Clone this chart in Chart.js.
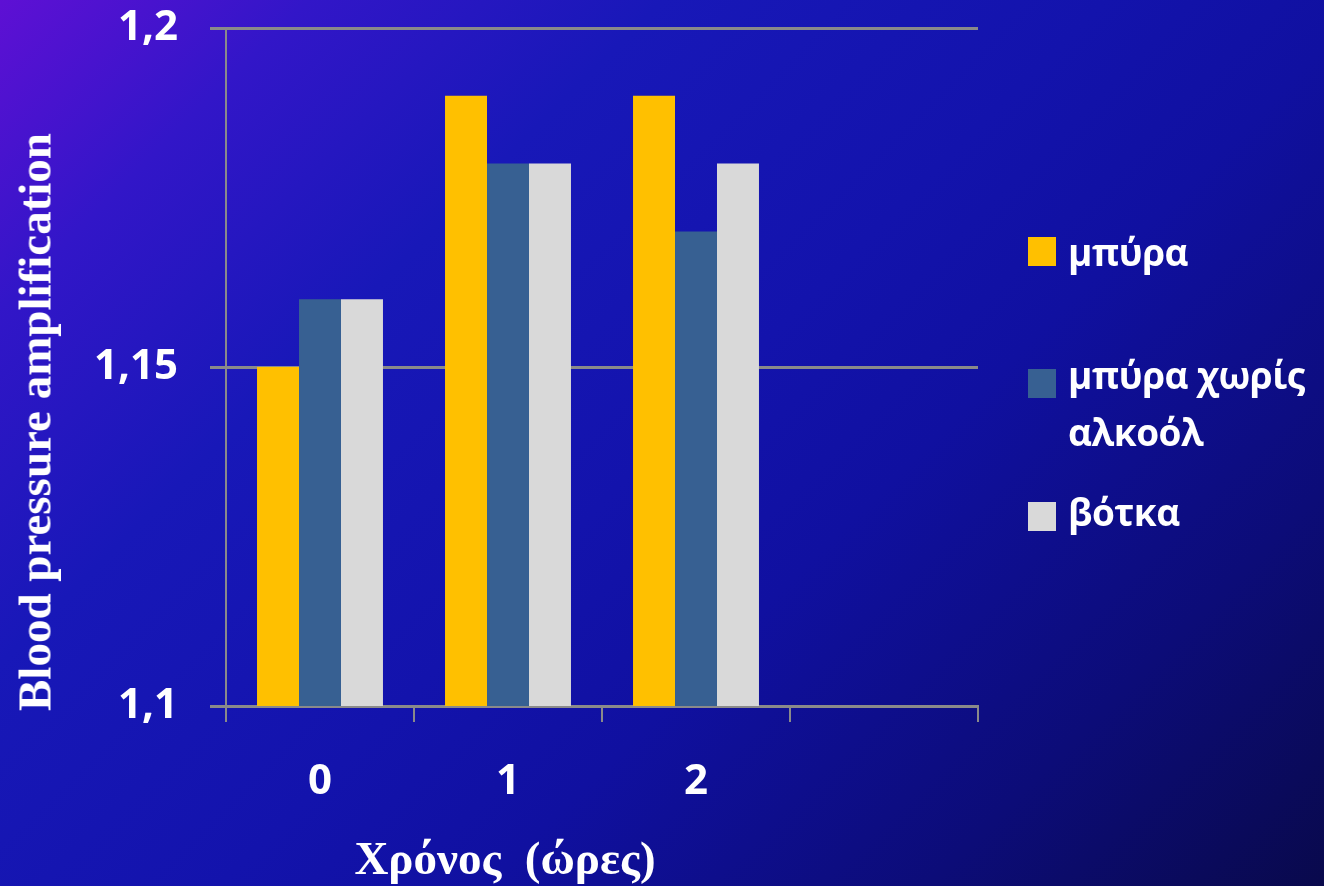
<!DOCTYPE html>
<html>
<head>
<meta charset="utf-8">
<script src="https://cdn.jsdelivr.net/npm/chart.js@4/dist/chart.umd.min.js"></script>
<style>
  html, body { margin: 0; padding: 0; width: 1324px; height: 886px; overflow: hidden; }
  #wrap {
    position: relative; width: 1324px; height: 886px;
    background: linear-gradient(135deg, #5e10d4 0%, #3216c8 14%, #1818b8 30%, #1313ac 50%, #1010a0 62%, #0c0c78 82%, #09094c 100%);
  }
  canvas { position: absolute; left: 0; top: 0; }
  .axt { position: absolute; color: #fff; font-family: "Liberation Serif", "Times New Roman", serif; font-weight: bold; font-size: 47px; white-space: nowrap; line-height: 1; }
  #ytitle { left: 35px; top: 422px; transform: translate(-50%, -50%) rotate(-90deg); }
  #xtitle { left: 505px; top: 858px; transform: translate(-50%, -50%); }
  .lg { position: absolute; color: #fff; font-family: "Open Sans", sans-serif; font-weight: bold; font-size: 37px; letter-spacing: -0.5px; line-height: 44px; white-space: nowrap; }
  .sw { position: absolute; width: 28px; height: 29px; }
</style>
</head>
<body>
<div id="wrap">
  <canvas id="c" width="1324" height="886"></canvas>
  <div id="ytitle" class="axt">Blood pressure amplification</div>
  <div id="xtitle" class="axt">Χρόνος&nbsp; (ώρες)</div>
  <div id="legend"></div>
</div>
<script>
// ---- data ----
const categories = ['0', '1', '2', ''];
const seriesNames = ['μπύρα', 'μπύρα χωρίς αλκοόλ', 'βότκα'];
const beer = [1.15, 1.19, 1.19, null];
const beerNoAlcohol = [1.16, 1.18, 1.17, null];
const vodka = [1.16, 1.18, 1.18, null];
const yTickLabels = ['1,1', '1,15', '1,2'];
const colors = ['#FFC000', '#376092', '#D9D9D9'];

// ---- legend (HTML) ----
const legendRows = [
  { sw: [1028, 237], lines: [['μπύρα', 230]] },
  { sw: [1028, 369], lines: [['μπύρα χωρίς', 353], ['αλκοόλ', 410]] },
  { sw: [1028, 502], lines: [['βότκα', 490]] }
];
const lg = document.getElementById('legend');
legendRows.forEach((r, i) => {
  const s = document.createElement('div');
  s.className = 'sw';
  s.style.left = r.sw[0] + 'px'; s.style.top = r.sw[1] + 'px';
  s.style.background = colors[i];
  lg.appendChild(s);
  r.lines.forEach(([t, top]) => {
    const d = document.createElement('div');
    d.className = 'lg';
    d.textContent = t;
    d.style.left = '1068px'; d.style.top = top + 'px';
    lg.appendChild(d);
  });
});

// ---- chart ----
const gridColor = '#8a8a8a';
new Chart(document.getElementById('c'), {
  type: 'bar',
  data: {
    labels: categories,
    datasets: [
      { label: seriesNames[0], data: beer, backgroundColor: colors[0] },
      { label: seriesNames[1], data: beerNoAlcohol, backgroundColor: colors[1] },
      { label: seriesNames[2], data: vodka, backgroundColor: colors[2] }
    ]
  },
  options: {
    responsive: false,
    animation: false,
    devicePixelRatio: 1,
    layout: { padding: { top: 28, right: 346, left: 0, bottom: 0 } },
    datasets: { bar: { barPercentage: 1.0, categoryPercentage: 0.67 } },
    plugins: { legend: { display: false }, tooltip: { enabled: false } },
    scales: {
      x: {
        afterFit: (s) => { s.height = 180; s.paddingLeft = 0; s.paddingRight = 0; },
        grid: { display: true, drawOnChartArea: false, drawTicks: true, tickLength: 16, color: gridColor, lineWidth: 2, offset: true },
        border: { display: true, color: gridColor, width: 3 },
        ticks: { color: '#ffffff', padding: 35, font: { family: 'Open Sans', weight: 'bold', size: 42 } }
      },
      y: {
        min: 1.1, max: 1.2,
        afterFit: (s) => { s.width = 226; s.paddingTop = 0; s.paddingBottom = 0; },
        afterBuildTicks: (s) => { s.ticks = [{ value: 1.1 }, { value: 1.15 }, { value: 1.2 }]; },
        grid: { display: true, drawTicks: true, tickLength: 16, color: gridColor, lineWidth: 3 },
        border: { display: true, color: gridColor, width: 2 },
        ticks: {
          color: '#ffffff', padding: 32,
          font: { family: 'Open Sans', weight: 'bold', size: 42 },
          callback: (v, i) => yTickLabels[i]
        }
      }
    }
  }
});
</script>
</body>
</html>
